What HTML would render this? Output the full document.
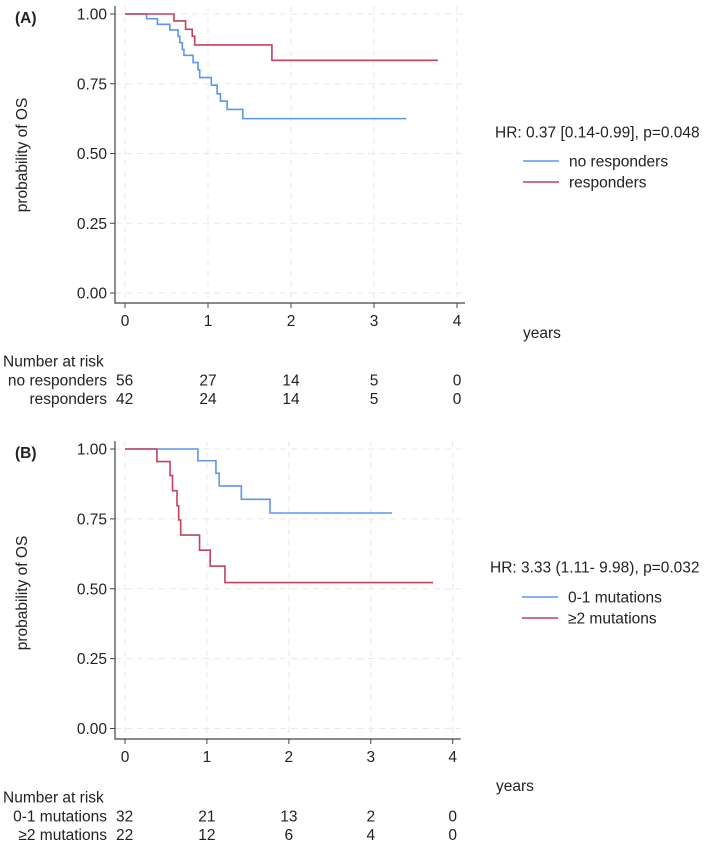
<!DOCTYPE html>
<html><head><meta charset="utf-8">
<style>
html,body{margin:0;padding:0;background:#fff;}
svg{display:block;font-family:"Liberation Sans",Arial,sans-serif;}
text{fill:#222;font-size:15.5px;}
</style></head>
<body>
<svg id="chart" width="709" height="843" viewBox="0 0 709 843"></svg>
<script>
// Panel A data
const tickYears = [0,1,2,3,4];
const tickProb = [0,0.25,0.5,0.75,1];
const tickProbLabels = ["0.00","0.25","0.50","0.75","1.00"];
const aNoRespTimes = [0,0.26,0.39,0.54,0.64,0.66,0.69,0.71,0.82,0.88,0.90,1.04,1.11,1.15,1.23,1.42,3.39];
const aNoRespSurv  = [1,0.983,0.963,0.943,0.92,0.897,0.873,0.852,0.826,0.80,0.772,0.745,0.714,0.688,0.658,0.625,0.625];
const aRespTimes = [0,0.59,0.73,0.81,0.84,1.77,3.77];
const aRespSurv  = [1,0.975,0.945,0.92,0.889,0.834,0.834];
const aRiskNoResp = [56,27,14,5,0];
const aRiskResp = [42,24,14,5,0];
// Panel B data
const bLowTimes = [0,0.89,1.11,1.15,1.42,1.77,3.26];
const bLowSurv  = [1,0.958,0.913,0.868,0.82,0.771,0.771];
const bHighTimes = [0,0.39,0.55,0.58,0.635,0.655,0.68,0.91,1.04,1.22,3.76];
const bHighSurv  = [1,0.955,0.905,0.851,0.797,0.746,0.692,0.638,0.581,0.522,0.522];
const bRiskLow = [32,21,13,2,0];
const bRiskHigh = [22,12,6,4,0];

const NS='http://www.w3.org/2000/svg';
const svg=document.getElementById('chart');
const BLUE='#5b97ee', RED='#c4405f';
function el(tag,attrs,parent,txt){const e=document.createElementNS(NS,tag);for(const k in attrs)e.setAttribute(k,attrs[k]);if(txt!==undefined)e.textContent=txt;(parent||svg).appendChild(e);return e;}

function panel(o){
  const g=el('g',{});
  
  
  const xs=t=>o.x0+t*(o.x4-o.x0)/4;
  const ys=p=>o.y0-p*(o.y0-o.y1);
  tickYears.forEach(t=>{const l=el('line',{x1:xs(t),x2:xs(t),y1:o.y1-8,y2:o.axisY,stroke:'#e8e8e8','stroke-dasharray':'6,5','stroke-width':1},g);
    
    });
  tickProb.forEach(p=>{const l=el('line',{x1:o.axisX,x2:o.x4+8,y1:ys(p),y2:ys(p),stroke:'#e8e8e8','stroke-dasharray':'6,5','stroke-width':1},g);
    
    });
  const ax=el('path',{d:`M${o.axisX},${o.y1-8}V${o.axisY}H${o.x4+8}`,stroke:'#444',fill:'none','stroke-width':1.2},g);
  
  
  tickProb.forEach((p,i)=>{
    el('line',{x1:o.axisX-5,x2:o.axisX,y1:ys(p),y2:ys(p),stroke:'#444'},g);
    const t=el('text',{x:o.axisX-8,y:ys(p)+5.5,'text-anchor':'end'},g,tickProbLabels[i]);
    
    
  });
  tickYears.forEach(v=>{
    el('line',{x1:xs(v),x2:xs(v),y1:o.axisY,y2:o.axisY+5,stroke:'#444'},g);
    const t=el('text',{x:xs(v),y:o.axisY+23,'text-anchor':'middle'},g,String(v));
    
    
  });
  const yt=el('text',{x:0,y:0,'text-anchor':'middle',transform:`translate(${o.ytX},${o.ytY}) rotate(-90)`},g,'probability of OS');
  
  
  const pl=el('text',{x:15,y:o.y1+9,'font-weight':'bold','font-size':'16px'},g,o.label);
  
  
  const yr=el('text',{x:o.yearsX,y:o.yearsY+5},g,'years');
  
  
  o.series.forEach(s=>{
    let d=`M${xs(s.t[0])},${ys(s.s[0])}`;
    for(let i=1;i<s.t.length;i++){d+=`H${xs(s.t[i])}V${ys(s.s[i])}`;}
    const p=el('path',{d,stroke:s.c,fill:'none','stroke-width':1.6},g);
    
    
  });
  const hr=el('text',{x:o.hrX,y:o.hrY+5.5},g,o.hr);
  
  
  o.series.forEach((s,i)=>{
    const ly=o.legY+i*21;
    const ln=el('line',{x1:o.legX,x2:o.legX+36,y1:ly,y2:ly,stroke:s.c,'stroke-width':1.6},g);
    
    
    const lt=el('text',{x:o.legX+46,y:ly+5.5,'xml:space':'preserve'},g,s.name);
    
    
  });
  const h=el('text',{x:3,y:o.riskY+5.5},g,'Number at risk');
  
  
  o.series.forEach((s,i)=>{
    const ry=o.riskY+19+i*18.5;
    const lab=el('text',{x:107,y:ry+5.5,'text-anchor':'end'},g,s.name.replace(/\s+/g,' '));
    
    
    s.risk.forEach((n,j)=>{
      const c=el('text',{x:j===0?o.axisX+1:xs(tickYears[j]),y:ry+5.5,'text-anchor':j===0?'start':'middle'},g,String(n));
      
      
    });
  });
}
panel({name:'panel-a',label:'(A)',x0:125,x4:457,y0:293,y1:14,axisX:115,axisY:303,ytX:27,ytY:155,
  yearsX:523,yearsY:333,hr:'HR: 0.37 [0.14-0.99], p=0.048',hrX:495,hrY:132,legX:523,legY:161,riskY:361,
  series:[{key:'no-responders',name:'no responders',c:BLUE,t:aNoRespTimes,s:aNoRespSurv,risk:aRiskNoResp},
          {key:'responders',name:'responders',c:RED,t:aRespTimes,s:aRespSurv,risk:aRiskResp}]});
panel({name:'panel-b',label:'(B)',x0:125,x4:452.7,y0:728.5,y1:449,axisX:115,axisY:739,ytX:27,ytY:593,
  yearsX:496,yearsY:786,hr:'HR: 3.33 (1.11- 9.98), p=0.032',hrX:490,hrY:567,legX:522,legY:597,riskY:797,
  series:[{key:'low-mutations',name:'0-1  mutations',c:BLUE,t:bLowTimes,s:bLowSurv,risk:bRiskLow},
          {key:'high-mutations',name:'≥2 mutations',c:RED,t:bHighTimes,s:bHighSurv,risk:bRiskHigh}]});
</script>
</body></html>
